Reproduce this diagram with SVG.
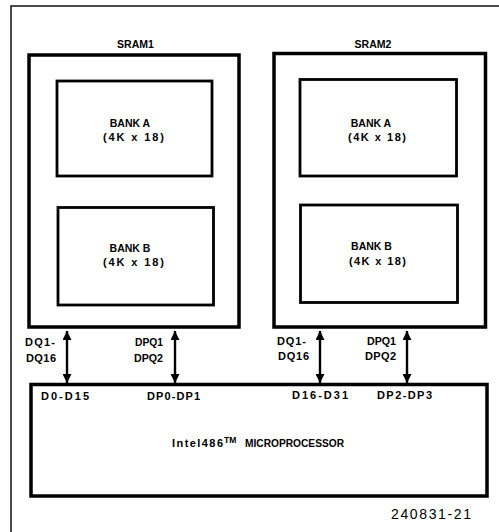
<svg xmlns="http://www.w3.org/2000/svg" width="499" height="532" viewBox="0 0 499 532">
<style>
.frame{fill:none;stroke:#111;stroke-width:1.5}
.sram{fill:none;stroke:#000;stroke-width:3.5}
.bank{fill:none;stroke:#000;stroke-width:2.8}
.cpu{fill:none;stroke:#000;stroke-width:3.5}
.bus{fill:none;stroke:#000;stroke-width:2.4;marker-start:url(#ah);marker-end:url(#ah)}
text{font-family:"Liberation Sans",Arial,sans-serif;font-weight:bold;fill:#000}
.t{font-size:11px}
.c{font-size:10.5px;text-anchor:middle}
.fig{font-size:14px;font-weight:normal}
</style>
<defs>
<marker id="ah" viewBox="0 0 10 10" refX="10" refY="5" markerWidth="9" markerHeight="9" markerUnits="userSpaceOnUse" orient="auto-start-reverse">
<path d="M0,0 L10,5 L0,10 z" fill="#000"/>
</marker>
</defs>
<polyline class="frame" points="11,532 11,6 499,6"/>
<g id="sram1">
<rect class="sram" x="29" y="55" width="210" height="272"/>
<text class="c" x="135.5" y="48">SRAM1</text>
</g>
<g id="sram1-bankA">
<rect class="bank" x="57" y="81" width="155" height="95"/>
<text class="c" x="130" y="127">BANK A</text>
<text class="t" x="103" y="141" textLength="61" lengthAdjust="spacing">(4K x 18)</text>
</g>
<g id="sram1-bankB">
<rect class="bank" x="58" y="207.5" width="155.5" height="97.5"/>
<text class="c" x="130" y="252">BANK B</text>
<text class="t" x="103" y="266" textLength="61" lengthAdjust="spacing">(4K x 18)</text>
</g>
<g id="sram2">
<rect class="sram" x="274" y="53.5" width="211.5" height="273.5"/>
<text class="c" x="373" y="48">SRAM2</text>
</g>
<g id="sram2-bankA">
<rect class="bank" x="300" y="79.5" width="156.5" height="96.5"/>
<text class="c" x="371" y="127">BANK A</text>
<text class="t" x="348" y="141" textLength="58" lengthAdjust="spacing">(4K x 18)</text>
</g>
<g id="sram2-bankB">
<rect class="bank" x="300.5" y="205" width="157" height="97.5"/>
<text class="c" x="371.5" y="250">BANK B</text>
<text class="t" x="349" y="265" textLength="57" lengthAdjust="spacing">(4K x 18)</text>
</g>
<g id="cpu">
<rect class="cpu" x="31" y="384.5" width="456" height="111.5"/>
<text class="t" x="41" y="400" textLength="48" lengthAdjust="spacing">D0-D15</text>
<text class="t" x="147" y="400" textLength="53" lengthAdjust="spacing">DP0-DP1</text>
<text class="t" x="292" y="399" textLength="56" lengthAdjust="spacing">D16-D31</text>
<text class="t" x="377" y="399" textLength="55" lengthAdjust="spacing">DP2-DP3</text>
<text class="t" y="447"><tspan x="172" textLength="51" lengthAdjust="spacing">Intel486</tspan><tspan x="224" dy="-4" font-size="8.5px">TM</tspan><tspan x="245" dy="4" textLength="99" lengthAdjust="spacingAndGlyphs">MICROPROCESSOR</tspan></text>
</g>
<g id="connectors">
<line class="bus" x1="67" y1="331" x2="67" y2="383"/>
<line class="bus" x1="175" y1="331" x2="175" y2="383"/>
<line class="bus" x1="320" y1="331" x2="320" y2="383"/>
<line class="bus" x1="407" y1="331" x2="407" y2="383"/>
</g>
<g id="bus-labels">
<text class="t" x="25" y="346" textLength="30" lengthAdjust="spacing">DQ1-</text>
<text class="t" x="26" y="362" textLength="30" lengthAdjust="spacing">DQ16</text>
<text class="t" x="135" y="346" textLength="28" lengthAdjust="spacingAndGlyphs">DPQ1</text>
<text class="t" x="134" y="362" textLength="29" lengthAdjust="spacingAndGlyphs">DPQ2</text>
<text class="t" x="277" y="345" textLength="29" lengthAdjust="spacing">DQ1-</text>
<text class="t" x="278" y="360" textLength="31" lengthAdjust="spacing">DQ16</text>
<text class="t" x="367" y="345" textLength="29" lengthAdjust="spacingAndGlyphs">DPQ1</text>
<text class="t" x="365" y="360" textLength="31" lengthAdjust="spacing">DPQ2</text>
</g>
<text class="fig" x="391" y="519" textLength="80" lengthAdjust="spacing">240831-21</text>
</svg>
